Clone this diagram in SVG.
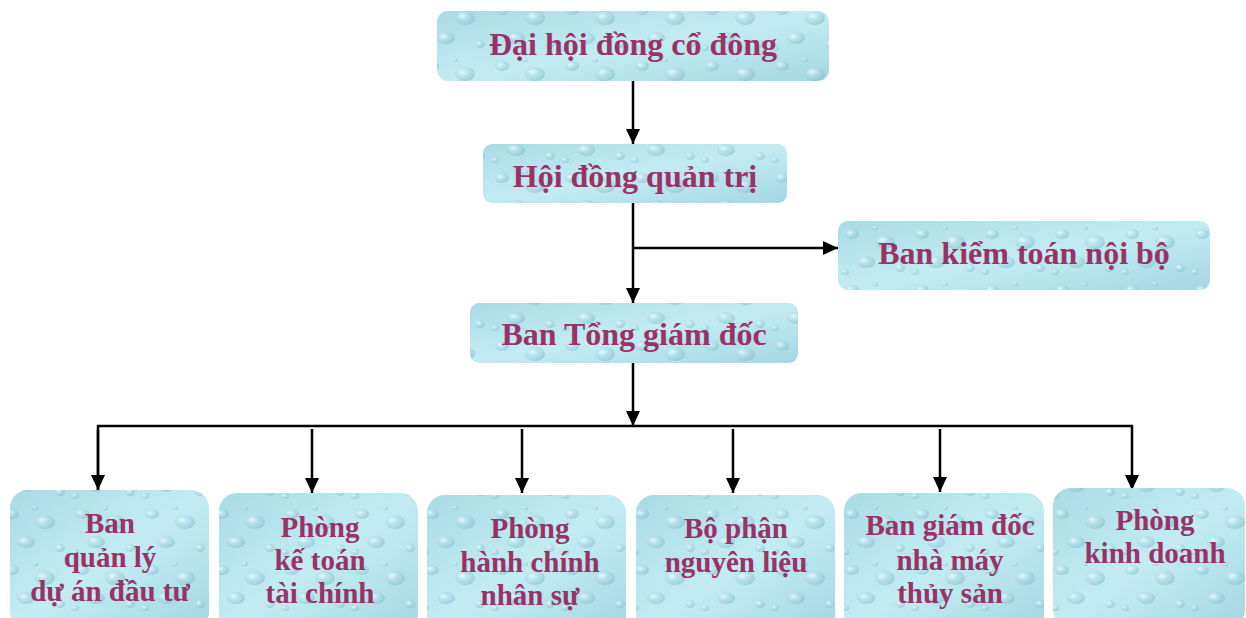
<svg xmlns="http://www.w3.org/2000/svg" width="1246" height="618" viewBox="0 0 1246 618">
<style>
.box{fill:url(#base);}
.tex{fill:url(#drops);}
.t{font-family:"Liberation Serif","Times New Roman",serif;font-weight:bold;fill:#993366;text-anchor:middle;}
.big{font-size:32px;}
.sm{font-size:29px;}
.ln{stroke:#000;stroke-width:2.5;fill:none;}
</style>
<defs>
<linearGradient id="base" x1="0" y1="0" x2="1" y2="1">
<stop offset="0" stop-color="#a9dbe5"/>
<stop offset="0.5" stop-color="#c3ecf2"/>
<stop offset="1" stop-color="#a4d7e2"/>
</linearGradient>
<radialGradient id="dg" cx="0.35" cy="0.35" r="0.7">
<stop offset="0" stop-color="#e8fbff" stop-opacity="0.9"/>
<stop offset="0.6" stop-color="#9fd2de" stop-opacity="0.5"/>
<stop offset="1" stop-color="#7fbccb" stop-opacity="0.6"/>
</radialGradient>
<pattern id="drops" patternUnits="userSpaceOnUse" width="70" height="56">
<ellipse cx="12" cy="10" rx="7" ry="5" fill="url(#dg)"/>
<ellipse cx="45" cy="18" rx="10" ry="7" fill="url(#dg)"/>
<ellipse cx="26" cy="38" rx="9" ry="6" fill="url(#dg)"/>
<ellipse cx="60" cy="44" rx="5" ry="4" fill="url(#dg)"/>
<ellipse cx="5" cy="48" rx="4" ry="3" fill="url(#dg)"/>
<ellipse cx="35" cy="4" rx="3" ry="2" fill="url(#dg)"/>
</pattern>
<marker id="ah" markerUnits="userSpaceOnUse" markerWidth="16" markerHeight="14" refX="15" refY="7" orient="auto">
<path d="M0,0 L15,7 L0,14 z" fill="#000"/>
</marker>
</defs>

<g id="connectors">
<line class="ln" x1="633" y1="81" x2="633" y2="144" marker-end="url(#ah)"/>
<line class="ln" x1="633" y1="203" x2="633" y2="303" marker-end="url(#ah)"/>
<line class="ln" x1="633" y1="248" x2="838" y2="248" marker-end="url(#ah)"/>
<line class="ln" x1="633" y1="363" x2="633" y2="426" marker-end="url(#ah)"/>
<polyline class="ln" points="98,490 98,426 1132,426 1132,490" marker-end="url(#ah)"/>
<line class="ln" x1="98" y1="430" x2="98" y2="490" marker-end="url(#ah)"/>
<line class="ln" x1="312" y1="429" x2="312" y2="493" marker-end="url(#ah)"/>
<line class="ln" x1="522" y1="429" x2="522" y2="493" marker-end="url(#ah)"/>
<line class="ln" x1="733" y1="429" x2="733" y2="493" marker-end="url(#ah)"/>
<line class="ln" x1="940" y1="429" x2="940" y2="492" marker-end="url(#ah)"/>
</g>

<g id="n-dhdcd">
<rect class="box" x="437" y="11" width="392" height="70" rx="11"/>
<rect class="tex" x="437" y="11" width="392" height="70" rx="11"/>
<text class="t big" x="633" y="55">Đại hội đồng cổ đông</text>
</g>
<g id="n-hdqt">
<rect class="box" x="483" y="144" width="304" height="59" rx="9"/>
<rect class="tex" x="483" y="144" width="304" height="59" rx="9"/>
<text class="t big" x="635" y="187">Hội đồng quản trị</text>
</g>
<g id="n-bktnb">
<rect class="box" x="838" y="221" width="372" height="69" rx="10"/>
<rect class="tex" x="838" y="221" width="372" height="69" rx="10"/>
<text class="t big" x="1024" y="264">Ban kiểm toán nội bộ</text>
</g>
<g id="n-btgd">
<rect class="box" x="470" y="303" width="328" height="60" rx="9"/>
<rect class="tex" x="470" y="303" width="328" height="60" rx="9"/>
<text class="t big" x="634" y="345">Ban Tổng giám đốc</text>
</g>

<g id="n-bql">
<rect class="box" x="10" y="490" width="199" height="140" rx="18"/>
<rect class="tex" x="10" y="490" width="199" height="140" rx="18"/>
<text class="t sm" x="110" y="533">Ban</text>
<text class="t sm" x="110" y="567">quản lý</text>
<text class="t sm" x="110" y="601">dự án đầu tư</text>
</g>
<g id="n-pkt">
<rect class="box" x="219" y="493" width="199" height="140" rx="18"/>
<rect class="tex" x="219" y="493" width="199" height="140" rx="18"/>
<text class="t sm" x="320" y="537">Phòng</text>
<text class="t sm" x="320" y="570">kế toán</text>
<text class="t sm" x="320" y="603">tài chính</text>
</g>
<g id="n-phc">
<rect class="box" x="427" y="495" width="199" height="140" rx="18"/>
<rect class="tex" x="427" y="495" width="199" height="140" rx="18"/>
<text class="t sm" x="530" y="538">Phòng</text>
<text class="t sm" x="530" y="572">hành chính</text>
<text class="t sm" x="530" y="605">nhân sự</text>
</g>
<g id="n-bpnl">
<rect class="box" x="636" y="495" width="199" height="140" rx="18"/>
<rect class="tex" x="636" y="495" width="199" height="140" rx="18"/>
<text class="t sm" x="736" y="538">Bộ phận</text>
<text class="t sm" x="736" y="572">nguyên liệu</text>
</g>
<g id="n-bgd">
<rect class="box" x="844" y="493" width="200" height="140" rx="18"/>
<rect class="tex" x="844" y="493" width="200" height="140" rx="18"/>
<text class="t sm" x="950" y="535">Ban giám đốc</text>
<text class="t sm" x="950" y="570">nhà máy</text>
<text class="t sm" x="950" y="603">thủy sản</text>
</g>
<g id="n-pkd">
<rect class="box" x="1053" y="488" width="192" height="140" rx="18"/>
<rect class="tex" x="1053" y="488" width="192" height="140" rx="18"/>
<text class="t sm" x="1155" y="530">Phòng</text>
<text class="t sm" x="1155" y="563">kinh doanh</text>
</g>
</svg>
